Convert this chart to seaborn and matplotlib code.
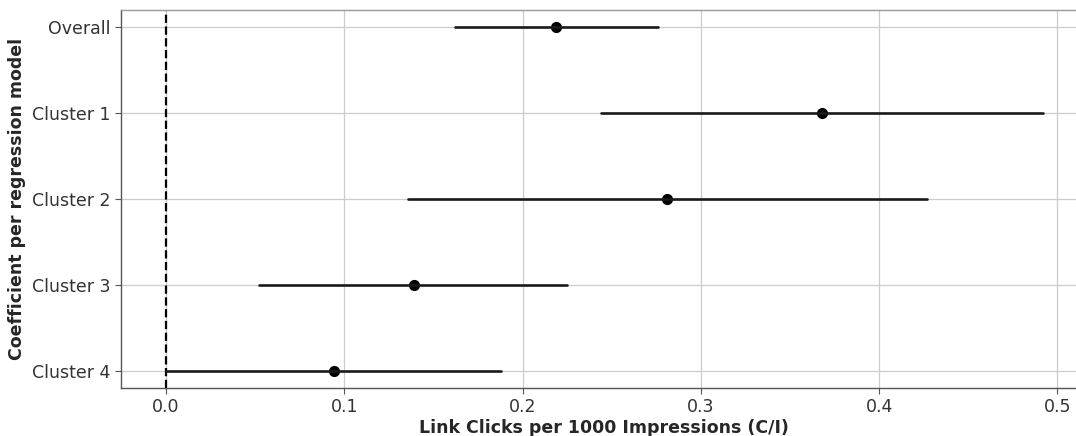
import numpy as np
import pandas as pd
import matplotlib
matplotlib.use("Agg")
import matplotlib.pyplot as plt
import seaborn as sns

sns.set_style("ticks")
plt.rcParams['font.family'] = ['DejaVu Sans']

# values
models = ["Overall", "Cluster 1", "Cluster 2", "Cluster 3", "Cluster 4"]
coef = [0.219, 0.368, 0.281, 0.139, 0.094]
ci_low = [0.162, 0.244, 0.136, 0.052, 0.000]
ci_high = [0.276, 0.492, 0.427, 0.225, 0.188]

# long form: low / estimate / high per model, median picks the estimate
# and the min-max range gives the interval
df = pd.DataFrame({
    "model": np.repeat(models, 3),
    "value": np.ravel(np.column_stack([ci_low, coef, ci_high])),
})

fig = plt.figure(figsize=(10.76, 4.36), dpi=100)
ax = fig.add_axes([0.1122, 0.110, 0.898, 0.867])

sns.pointplot(data=df, x="value", y="model", order=models,
              estimator="median", errorbar=lambda v: (v.min(), v.max()),
              color="black", linestyle="none", marker="o", markersize=6,
              err_kws={"linewidth": 1.9, "color": "#1a1a1a"}, ax=ax)

ax.axvline(0, color="black", linestyle="--", linewidth=1.6, zorder=1)

ax.set_xlim(-0.0254, 0.5166)
ax.set_ylim(4.2, -0.2)
ax.grid(True, color="#cccccc", linewidth=0.9)
ax.set_axisbelow(True)

# right edge of the frame falls outside the picture in the original
for side in ["top", "left", "bottom"]:
    ax.spines[side].set_visible(True)
    ax.spines[side].set_color("#555555")
    ax.spines[side].set_linewidth(1.0)
ax.spines["top"].set_color("#999999")
ax.spines["right"].set_visible(False)

ax.tick_params(labelsize=12.5, colors="#333333", length=4, color="#555555")
ax.set_xlabel("Link Clicks per 1000 Impressions (C/I)", fontsize=12.5,
              fontweight="bold", labelpad=2)
ax.set_ylabel("Coefficient per regression model", fontsize=12.5,
              fontweight="bold")

fig.savefig("out.png", dpi=100)
